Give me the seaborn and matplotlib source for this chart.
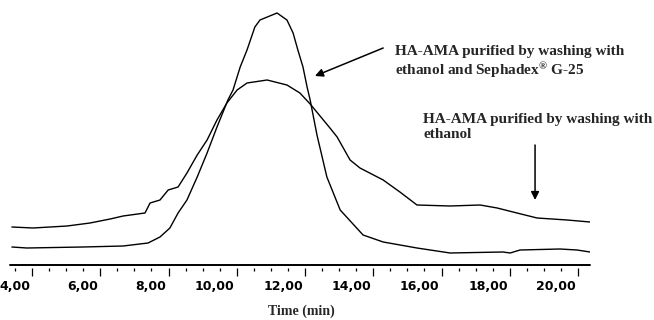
import matplotlib
matplotlib.use("Agg")
import matplotlib.pyplot as plt
from matplotlib.transforms import ScaledTranslation
from matplotlib.ticker import MultipleLocator, FuncFormatter
import seaborn as sns

# elution profile, ethanol wash only (broad peak)
time_ethanol = [3.41, 4.03, 5.03, 5.70, 6.29, 6.67, 7.31, 7.46, 7.75, 7.99, 8.28, 8.54,
                8.84, 9.13, 9.42, 9.71, 10.01, 10.30, 10.89, 11.47, 11.85, 12.15, 12.44,
                12.73, 12.94, 13.32, 13.61, 14.29, 14.78, 15.28, 16.25, 17.13, 17.63,
                18.21, 18.80, 19.68, 20.35]
signal_ethanol = [38, 37, 39, 42, 46, 49, 52, 62, 65, 75, 78, 92,
                  110, 125, 145, 162, 175, 182, 185, 180, 172, 161, 149,
                  137, 128, 105, 97, 85, 73, 60, 59, 60, 57,
                  52, 47, 45, 43]

# elution profile, ethanol + Sephadex G-25 (narrow peak)
time_sephadex = [3.41, 3.85, 5.49, 6.67, 7.40, 7.75, 8.04, 8.28, 8.54, 8.84, 9.13, 9.42,
                 9.74, 9.89, 10.10, 10.30, 10.53, 10.68, 11.18, 11.47, 11.65, 11.79,
                 11.94, 12.06, 12.15, 12.35, 12.64, 13.03, 13.70, 14.29, 15.28, 16.25,
                 17.80, 18.01, 18.30, 19.47, 19.97, 20.35]
signal_sephadex = [18, 17, 18, 19, 22, 28, 37, 52, 65, 88, 112, 138,
                   165, 175, 198, 215, 238, 245, 252, 245, 232, 215,
                   198, 178, 165, 130, 88, 55, 30, 23, 17, 12,
                   13, 12, 15, 16, 15, 13]

label_sephadex = "HA-AMA purified by washing with\nethanol and Sephadex$^{®}$ G-25"
label_ethanol = "HA-AMA purified by washing with\nethanol"

sns.set_theme(style="white")
plt.rcParams["font.family"] = ["DejaVu Sans"]
plt.rcParams["mathtext.fontset"] = "custom"
plt.rcParams["mathtext.rm"] = "Liberation Serif:bold"
plt.rcParams["mathtext.it"] = "Liberation Serif:bold"
plt.rcParams["mathtext.bf"] = "Liberation Serif:bold"

fig = plt.figure(figsize=(6.54, 3.2), dpi=100)
ax = fig.add_axes([10 / 654, 52 / 320, 580 / 654, 268 / 320])

sns.lineplot(x=time_ethanol, y=signal_ethanol, color="black", linewidth=1.0,
             estimator=None, sort=False, ax=ax)
sns.lineplot(x=time_sephadex, y=signal_sephadex, color="black", linewidth=1.0,
             estimator=None, sort=False, ax=ax)

ax.set_xlim(3.355, 20.35)
ax.set_ylim(-3, 265)
ax.axhline(0, color="black", linewidth=1.4, clip_on=False)

for s in ["top", "left", "right", "bottom"]:
    ax.spines[s].set_visible(False)
ax.set_yticks([])
ax.xaxis.set_major_locator(MultipleLocator(2))
ax.xaxis.set_minor_locator(MultipleLocator(0.5))
ax.xaxis.set_major_formatter(FuncFormatter(lambda v, p: f"{v:.2f}".replace(".", ",")))
ax.tick_params(axis="x", which="major", bottom=True, direction="out", length=5.5,
               width=0.9, color="black", pad=3, labelsize=9, labelcolor="black")
ax.tick_params(axis="x", which="minor", bottom=True, direction="out", length=2.4,
               width=0.9, color="black")
shift = ScaledTranslation(-2 / 100, 0, fig.dpi_scale_trans)
for lab in ax.get_xticklabels():
    lab.set_fontweight("bold")
    lab.set_horizontalalignment("right")
    lab.set_transform(lab.get_transform() + shift)

fig.text(301 / 654, 1 - 305 / 320, "Time (min)", ha="center", va="top",
         family="Liberation Serif", weight="bold", fontsize=10)

ax.text(14.64, 220, label_sephadex, ha="left", va="top", family="Liberation Serif",
        weight="bold", fontsize=11, linespacing=1.15)
ax.text(15.46, 152, label_ethanol, ha="left", va="top", family="Liberation Serif",
        weight="bold", fontsize=11, linespacing=1.15)

ax.annotate("", xy=(12.29, 189), xytext=(14.29, 217),
            arrowprops=dict(arrowstyle="-|>", color="black", lw=1.1,
                            mutation_scale=12, shrinkA=0, shrinkB=0))
ax.annotate("", xy=(18.74, 65), xytext=(18.74, 120),
            arrowprops=dict(arrowstyle="-|>", color="black", lw=1.1,
                            mutation_scale=12, shrinkA=0, shrinkB=0))

fig.savefig("out.png", dpi=100, facecolor="white")
